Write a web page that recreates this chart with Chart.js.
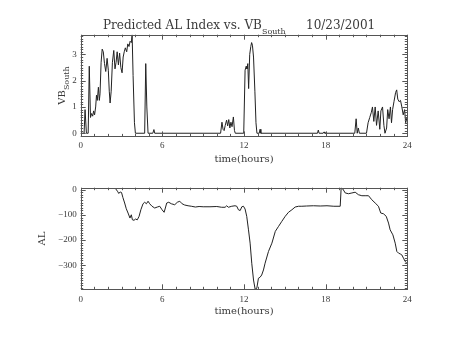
<!DOCTYPE html>
<html>
<head>
<meta charset="utf-8">
<script src="https://cdn.jsdelivr.net/npm/chart.js@4.4.1/dist/chart.umd.min.js"></script>
<style>
  body { margin: 0; background: #fff; }
  #wrap { position: relative; width: 454px; height: 341px; }
  canvas { position: absolute; left: 0; }
</style>
</head>
<body>
<div id="wrap">
  <canvas id="vb" width="454" height="170" style="top:0"></canvas>
  <canvas id="al" width="454" height="171" style="top:170px"></canvas>
</div>
<script>
// time axis (hours)
const horas = [0, 6, 12, 18, 24];

// VB south (top panel)
const vbTempo = [0.0, 0.25, 0.32, 0.42, 0.55, 0.63, 0.72, 0.8, 0.88, 0.95, 1.02, 1.1, 1.16, 1.22, 1.3, 1.37, 1.42,
  1.5, 1.58, 1.66, 1.75, 1.84, 1.94, 2.03, 2.1, 2.16, 2.24, 2.33, 2.43, 2.52, 2.6, 2.68, 2.77, 2.86, 2.95,
  3.04, 3.12, 3.2, 3.28, 3.38, 3.46, 3.55, 3.63, 3.72, 3.78, 3.85, 3.95, 4.02, 4.7, 4.78, 4.86, 4.95,
  5.3, 5.38, 5.44, 10.28, 10.38, 10.46, 10.54, 10.62, 10.72, 10.8, 10.88, 10.96, 11.04, 11.12, 11.22, 11.3, 11.36,
  11.98, 12.08, 12.16, 12.22, 12.28, 12.34, 12.42, 12.5, 12.56, 12.62, 12.7, 12.8, 12.88, 12.95,
  13.12, 13.18, 13.24, 17.4, 17.46, 17.52, 17.82, 17.88, 17.94, 20.14, 20.24, 20.32, 20.4, 20.48,
  21.0, 21.12, 21.24, 21.36, 21.44, 21.54, 21.64, 21.74, 21.86, 21.98, 22.06, 22.18, 22.28, 22.36,
  22.48, 22.56, 22.66, 22.76, 22.84, 22.92, 23.02, 23.14, 23.22, 23.3, 23.4, 23.5, 23.6, 23.7, 23.8, 23.88, 23.98];
const vbValor = [0, 0, 0.9, 0, 0, 2.55, 0.6, 0.75, 0.65, 0.85, 0.7, 1.0, 1.45, 1.25, 1.75, 1.25, 1.5,
  2.7, 3.2, 3.1, 2.65, 2.35, 2.85, 2.4, 1.6, 1.15, 1.6, 2.7, 3.15, 2.45, 2.7, 3.1, 2.6, 3.05, 2.5,
  2.3, 2.9, 3.1, 3.25, 3.1, 3.4, 3.3, 3.5, 3.45, 3.75, 2.2, 0.4, 0, 0, 2.65, 1.0, 0,
  0, 0.14, 0, 0, 0.42, 0.15, 0.1, 0.3, 0.5, 0.28, 0.52, 0.2, 0.42, 0.25, 0.62, 0.1, 0,
  0, 2.4, 2.55, 2.45, 2.65, 1.7, 3.0, 3.3, 3.45, 3.35, 2.9, 1.6, 0.4, 0,
  0, 0.15, 0, 0, 0.12, 0, 0, 0.05, 0, 0, 0.55, 0, 0.2, 0,
  0, 0.4, 0.6, 0.8, 1.0, 0.45, 1.0, 0.3, 0.85, 0.15, 0.85, 1.0, 0.3, 0,
  0.2, 0.9, 0.55, 1.0, 0.4, 0.9, 1.2, 1.55, 1.65, 1.3, 1.2, 1.25, 1.0, 0.7, 0.9, 0.4, 0.6];
const vbTicks = [0, 1, 2, 3];

// AL index (bottom panel)
const alTempo = [2.55, 2.7, 2.8, 2.9, 3.0, 3.1, 3.23, 3.35, 3.48, 3.62, 3.72, 3.8, 3.92, 4.02, 4.16, 4.29, 4.42,
  4.58, 4.7, 4.83, 4.95, 5.07, 5.24, 5.44, 5.63, 5.81, 5.98, 6.13, 6.22, 6.32, 6.47, 6.66, 6.91, 7.1, 7.28,
  7.45, 7.64, 7.89, 8.13, 8.43, 8.7, 9.0, 9.5, 10.0, 10.36, 10.61, 10.73, 10.85, 11.1, 11.34, 11.47, 11.59,
  11.72, 11.84, 11.96, 12.08, 12.2, 12.33, 12.45, 12.57, 12.7, 12.82, 12.94, 13.06, 13.18, 13.3, 13.43,
  13.55, 13.8, 14.05, 14.3, 14.54, 14.78, 15.03, 15.27, 15.52, 15.76, 16.01, 16.25, 16.6, 17.1, 17.6, 18.1,
  18.6, 19.07, 19.14, 19.26, 19.44, 19.68, 19.93, 20.17, 20.41, 20.66, 20.9, 21.15, 21.39, 21.64, 21.88,
  22.05, 22.25, 22.45, 22.62, 22.74, 22.94, 23.11, 23.23, 23.36, 23.48, 23.6, 23.72, 23.84, 23.97];
const alValor = [6, -5, -14, -8, -10, -30, -52, -75, -92, -112, -99, -119, -121, -116, -119, -105, -79,
  -55, -49, -55, -45, -55, -65, -72, -68, -65, -79, -89, -72, -52, -49, -55, -59, -49, -45,
  -55, -60, -63, -65, -68, -66, -67, -67, -66, -69, -69, -63, -69, -65, -63, -65, -79,
  -82, -67, -65, -76, -105, -159, -212, -292, -359, -396, -392, -352, -348, -339, -319,
  -292, -245, -212, -165, -145, -125, -105, -89, -79, -68, -65, -65, -64, -63, -64, -63,
  -65, -65, 9, 4, -12, -15, -12, -9, -19, -23, -23, -23, -39, -52, -65,
  -92, -95, -105, -132, -159, -179, -212, -245, -252, -255, -259, -272, -285, -292];
const alTicks = [0, -100, -200, -300];

const cinza = '#3a3a3a';

// moldura estilo IDL: caixa fechada com ticks para dentro nos quatro lados
const moldura = {
  id: 'moldura',
  afterDraw(chart, args, opts) {
    const { ctx, chartArea: a, scales } = chart;
    const sx = scales.x, sy = scales.y;
    ctx.save();
    ctx.strokeStyle = '#555';
    ctx.lineWidth = 1;
    ctx.strokeRect(Math.round(a.left) + 0.5, Math.round(a.top) + 0.5,
      Math.round(a.right) - Math.round(a.left), Math.round(a.bottom) - Math.round(a.top));
    ctx.beginPath();
    for (let v = sx.min; v <= sx.max + 1e-9; v += 1) {
      const len = v % 6 === 0 ? 5 : 2.5;
      const px = Math.round(sx.getPixelForValue(v)) + 0.5;
      ctx.moveTo(px, a.bottom); ctx.lineTo(px, a.bottom - len);
      ctx.moveTo(px, a.top); ctx.lineTo(px, a.top + len);
    }
    const passo = opts.menor, maior = opts.maior;
    for (let v = Math.ceil(sy.min / passo) * passo; v <= sy.max + 1e-9; v += passo) {
      const k = Math.round(v / passo);
      const len = k % Math.round(maior / passo) === 0 ? 5 : 2.5;
      const py = Math.round(sy.getPixelForValue(v)) + 0.5;
      ctx.moveTo(a.left, py); ctx.lineTo(a.left + len, py);
      ctx.moveTo(a.right, py); ctx.lineTo(a.right - len, py);
    }
    ctx.stroke();

    // titulos
    ctx.fillStyle = cinza;
    ctx.textBaseline = 'alphabetic';
    (opts.textos || []).forEach(t => {
      ctx.save();
      ctx.translate(t.x, t.y);
      if (t.rot) ctx.rotate(t.rot);
      ctx.textAlign = 'left';
      let x = 0;
      t.partes.forEach(p => {
        ctx.font = p.font;
        ctx.fillText(p.txt, x, p.dy || 0);
        x += ctx.measureText(p.txt).width + (p.gap || 0);
      });
      ctx.restore();
    });
    ctx.restore();
  }
};

function medir(partes) {
  const c = document.createElement('canvas').getContext('2d');
  let w = 0;
  partes.forEach(p => { c.font = p.font; w += c.measureText(p.txt).width + (p.gap || 0); });
  return w;
}

function criarGrafico(id, tempo, valor, cfg) {
  const pontos = tempo.map((t, i) => ({ x: t, y: valor[i] }));
  return new Chart(document.getElementById(id), {
    type: 'line',
    data: { datasets: [{ data: pontos, borderColor: '#222', borderWidth: 1, pointRadius: 0, tension: 0 }] },
    options: {
      responsive: false,
      animation: false,
      events: [],
      layout: { padding: cfg.padding },
      plugins: {
        legend: { display: false },
        tooltip: { enabled: false },
        moldura: { menor: cfg.menor, maior: cfg.maior, textos: cfg.textos }
      },
      scales: {
        x: {
          type: 'linear', min: 0, max: 24,
          grid: { display: false, drawTicks: false },
          border: { display: false },
          afterBuildTicks: s => { s.ticks = horas.map(v => ({ value: v })); },
          afterFit: s => { s.height = 20; },
          ticks: { color: cinza, font: { family: '"Liberation Serif", serif', size: 9 }, padding: cfg.xPad, maxRotation: 0, autoSkip: false }
        },
        y: {
          type: 'linear', min: cfg.ymin, max: cfg.ymax,
          grid: { display: false, drawTicks: false },
          border: { display: false },
          afterBuildTicks: s => { s.ticks = cfg.ticks.map(v => ({ value: v })); },
          afterFit: s => { s.width = 80.7; },
          ticks: {
            color: cinza, font: { family: '"Liberation Serif", serif', size: 9 }, padding: 4,
            callback: v => String(v).replace('-', '\u2212')
          }
        }
      }
    },
    plugins: [moldura]
  });
}

const fTit = '12px "DejaVu Serif", serif';
const fSub = '8px "DejaVu Serif", serif';
const fEixo = '10px "DejaVu Serif", serif';

const eixoVB = [{ txt: 'VB', font: fEixo }, { txt: 'South', font: fSub, dy: 4 }];
const tempoTit = [{ txt: 'time(hours)', font: fEixo }];

criarGrafico('vb', vbTempo, vbValor, {
  padding: { top: 34.7, left: 0, right: 46.7, bottom: 13.6 },
  ymin: -0.12, ymax: 3.75, ticks: vbTicks, menor: 0.1, maior: 1, xPad: 4,
  textos: [
    { x: 103, y: 29, partes: [
      { txt: 'Predicted AL Index vs. VB', font: fTit, gap: 0 },
      { txt: 'South', font: fSub, dy: 5 }] },
    { x: 306, y: 29, partes: [{ txt: '10/23/2001', font: fTit }] },
    { x: 65, y: 85.5 + medir(eixoVB) / 2, rot: -Math.PI / 2, partes: eixoVB },
    { x: 244 - medir(tempoTit) / 2, y: 162, partes: tempoTit }
  ]
});

criarGrafico('al', alTempo, alValor, {
  padding: { top: 17.7, left: 0, right: 46.7, bottom: 31.7 },
  ymin: -396, ymax: 9, ticks: alTicks, menor: 10, maior: 100, xPad: 5,
  textos: [
    { x: 45, y: 238.5 - 170 + 7, rot: -Math.PI / 2, partes: [{ txt: 'AL', font: fEixo }] },
    { x: 244 - medir(tempoTit) / 2, y: 314 - 170, partes: tempoTit }
  ]
});
</script>
</body>
</html>
